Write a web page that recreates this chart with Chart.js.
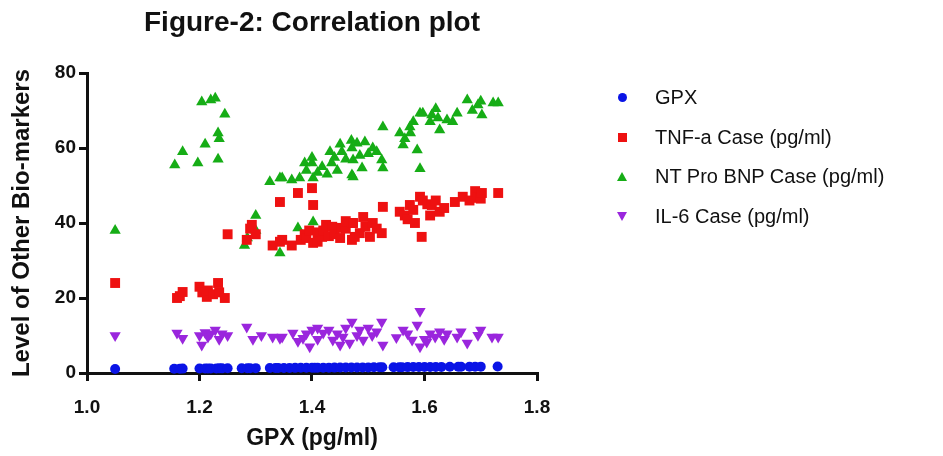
<!DOCTYPE html>
<html>
<head>
<meta charset="utf-8">
<title>Figure-2: Correlation plot</title>
<script src="https://cdn.jsdelivr.net/npm/chart.js@4.4.1/dist/chart.umd.min.js"></script>
<style>
  body { margin: 0; background: #fff; }
  #wrap { position: relative; width: 943px; height: 456px; }
  #legend {
    position: absolute; left: 612px; top: 83px;
    font: 20px "Liberation Sans", Arial, sans-serif; color: #111;
  }
  .item { position: relative; height: 39.5px; line-height: 28px; padding-left: 43px; white-space: nowrap; }
  .mk { position: absolute; }
  .circle { left: 6px; top: 10px; width: 9px; height: 9px; border-radius: 50%; background: #0a14e6; }
  .square { left: 6px; top: 10px; width: 9px; height: 9px; background: #ee1111; }
  .tri-up { left: 5px; top: 10px; width: 0; height: 0; border-left: 5px solid transparent; border-right: 5px solid transparent; border-bottom: 9px solid #16ad16; }
  .tri-down { left: 5px; top: 10px; width: 0; height: 0; border-left: 5px solid transparent; border-right: 5px solid transparent; border-top: 9px solid #9a26dd; }
</style>
</head>
<body>
<div id="wrap">
  <canvas id="corrChart" width="943" height="456"></canvas>
  <div id="legend">
    <div class="item"><span class="mk circle"></span>GPX</div>
    <div class="item"><span class="mk square"></span>TNF-a Case (pg/ml)</div>
    <div class="item"><span class="mk tri-up"></span>NT Pro BNP Case (pg/ml)</div>
    <div class="item"><span class="mk tri-down"></span>IL-6 Case (pg/ml)</div>
  </div>
</div>
<script>
// GPX values (x axis); the GPX series is plotted against itself
const gpxValues = [
  1.05,
  1.155, 1.165, 1.17,
  1.20, 1.21, 1.215, 1.22, 1.23, 1.235, 1.24, 1.25,
  1.275, 1.285, 1.29, 1.30,
  1.325, 1.335, 1.34, 1.35, 1.36, 1.37, 1.38, 1.39, 1.40, 1.405, 1.41, 1.42, 1.43,
  1.44, 1.45, 1.46, 1.47, 1.48, 1.49, 1.50, 1.51, 1.52, 1.525,
  1.545, 1.555, 1.56, 1.57, 1.58, 1.59, 1.60, 1.61, 1.62, 1.63,
  1.645, 1.66, 1.665, 1.68, 1.69, 1.70,
  1.73
];

// [GPX, TNF-a]
const tnfPoints = [
  [1.05, 24],
  [1.16, 20], [1.165, 20.5], [1.17, 21.6], [1.20, 23], [1.205, 21.5], [1.213, 20.3], [1.215, 22],
  [1.224, 21], [1.233, 24], [1.235, 21.5], [1.245, 20],
  [1.25, 37], [1.284, 35.5], [1.29, 38.5], [1.293, 39.5], [1.30, 37], [1.33, 34], [1.343, 35], [1.343, 45.6],
  [1.347, 35.5], [1.364, 34], [1.375, 48], [1.38, 35.5], [1.387, 37], [1.39, 36], [1.395, 38],
  [1.40, 49.3], [1.402, 44.8], [1.402, 34.7], [1.41, 37.5], [1.41, 35], [1.418, 36.3], [1.42, 38],
  [1.425, 39.5], [1.43, 36.5], [1.436, 39], [1.44, 37], [1.45, 36], [1.453, 38.7], [1.46, 38.5],
  [1.46, 40.5], [1.471, 40], [1.471, 35.5],
  [1.473, 40], [1.476, 36.3], [1.485, 37.3], [1.491, 41.6], [1.495, 39], [1.503, 36.3], [1.508, 40],
  [1.515, 38.5], [1.524, 37.3], [1.526, 44.3], [1.556, 43], [1.565, 42], [1.57, 41], [1.574, 44.8],
  [1.58, 43.5], [1.583, 40], [1.592, 47], [1.595, 36.3],
  [1.597, 46], [1.605, 45], [1.61, 42], [1.613, 44.8], [1.62, 46], [1.627, 43], [1.635, 44],
  [1.654, 45.6], [1.668, 47], [1.68, 46], [1.69, 48.5], [1.695, 46.7], [1.70, 46.5], [1.702, 48],
  [1.731, 48]
];

// [GPX, NT Pro BNP]
const ntProBnpPoints = [
  [1.05, 38],
  [1.156, 55.5], [1.17, 59], [1.197, 56], [1.204, 72.3], [1.21, 61], [1.22, 72.8], [1.228, 73.3],
  [1.233, 64], [1.235, 62.5], [1.233, 57], [1.245, 69],
  [1.28, 34], [1.285, 36], [1.30, 38], [1.30, 42], [1.325, 51], [1.343, 52], [1.343, 32],
  [1.347, 52], [1.364, 51.5], [1.375, 38.7], [1.378, 52], [1.387, 56], [1.39, 54], [1.40, 56],
  [1.40, 57.5], [1.402, 52], [1.402, 40.3], [1.41, 53.5], [1.418, 55], [1.427, 53], [1.432, 59],
  [1.435, 56], [1.44, 57.5], [1.445, 54], [1.45, 61], [1.453, 59], [1.46, 57], [1.47, 62],
  [1.471, 60], [1.471, 52.8],
  [1.473, 56.8], [1.473, 52.3], [1.48, 61.3], [1.485, 58], [1.489, 54.7], [1.494, 61.6], [1.50, 58.5],
  [1.508, 60], [1.515, 59], [1.524, 56.8], [1.526, 54.7], [1.526, 65.6], [1.556, 64], [1.562, 60.8],
  [1.565, 62.5], [1.574, 65.6], [1.575, 64], [1.58, 67], [1.587, 59.5], [1.592, 69.3], [1.592, 54.5],
  [1.597, 69.3], [1.61, 67], [1.613, 68.8], [1.62, 70.5], [1.624, 68], [1.627, 64.8], [1.64, 67.5],
  [1.65, 67], [1.658, 69.3], [1.676, 72.8], [1.685, 70], [1.695, 71.5], [1.70, 72.5], [1.702, 68.8],
  [1.722, 72], [1.731, 72]
];

// [GPX, IL-6]
const il6Points = [
  [1.05, 10],
  [1.16, 10.7], [1.17, 9.3], [1.20, 10], [1.204, 7.5], [1.21, 10.8], [1.215, 9.6], [1.22, 10.5],
  [1.228, 11.5], [1.235, 9], [1.24, 10.5], [1.25, 10],
  [1.284, 12.3], [1.295, 9], [1.31, 10], [1.33, 9.6], [1.343, 9.3],
  [1.347, 9.6], [1.366, 10.7], [1.375, 8.5], [1.384, 9.3], [1.39, 10.5], [1.396, 7], [1.40, 11.5],
  [1.41, 9], [1.41, 12], [1.42, 10.7], [1.43, 11.5], [1.437, 8.8], [1.445, 10.5], [1.45, 7.5],
  [1.455, 9.6], [1.46, 12], [1.467, 8], [1.471, 13.6],
  [1.48, 10], [1.485, 11.5], [1.491, 8.8], [1.50, 12], [1.507, 10], [1.515, 11], [1.524, 13.6],
  [1.526, 7.5], [1.55, 9.5], [1.562, 11.5], [1.57, 10.5], [1.578, 8.8], [1.587, 12.8], [1.592, 16.5],
  [1.592, 7], [1.60, 9], [1.604, 8.3], [1.61, 10.5], [1.619, 9.6], [1.627, 11], [1.635, 9],
  [1.64, 10.5], [1.658, 9.6], [1.665, 11], [1.676, 8], [1.695, 10.1], [1.70, 11.5], [1.72, 9.6],
  [1.731, 9.6]
];

const xTicks = [1.0, 1.2, 1.4, 1.6, 1.8];
const yTicks = [0, 20, 40, 60, 80];

const fontFamily = '"Liberation Sans", Arial, Helvetica, sans-serif';
const ink = '#111';

function toXY(points) {
  return points.map(p => ({ x: p[0], y: p[1] }));
}

function axisStyle() {
  return {
    border: { display: true, color: ink, width: 3 },
    grid: { drawOnChartArea: false, drawTicks: true, color: ink, lineWidth: 3, tickLength: 8 }
  };
}

const ctx = document.getElementById('corrChart').getContext('2d');

new Chart(ctx, {
  type: 'scatter',
  data: {
    datasets: [
      {
        label: 'GPX',
        data: gpxValues.map(v => ({ x: v, y: v })),
        pointStyle: 'circle',
        pointRadius: 5,
        backgroundColor: '#0a14e6',
        borderColor: '#0a14e6',
        borderWidth: 0,
        clip: false
      },
      {
        label: 'TNF-a Case (pg/ml)',
        data: toXY(tnfPoints),
        pointStyle: 'rect',
        pointRadius: 7,
        backgroundColor: '#ee1111',
        borderColor: '#ee1111',
        borderWidth: 0,
        clip: false
      },
      {
        label: 'NT Pro BNP Case (pg/ml)',
        data: toXY(ntProBnpPoints),
        pointStyle: 'triangle',
        pointRadius: 6.5,
        backgroundColor: '#16ad16',
        borderColor: '#16ad16',
        borderWidth: 0,
        clip: false
      },
      {
        label: 'IL-6 Case (pg/ml)',
        data: toXY(il6Points),
        pointStyle: 'triangle',
        rotation: 180,
        pointRadius: 6.5,
        backgroundColor: '#9a26dd',
        borderColor: '#9a26dd',
        borderWidth: 0,
        clip: false
      }
    ]
  },
  options: {
    responsive: false,
    animation: false,
    layout: { padding: { left: 0, right: 406, top: 0, bottom: 0 } },
    plugins: {
      legend: { display: false },
      tooltip: { enabled: false },
      title: {
        display: true,
        fullSize: false,
        text: 'Figure-2: Correlation plot',
        color: ink,
        font: { family: fontFamily, size: 28, weight: 'bold' },
        padding: { top: 6, bottom: 33.4 }
      }
    },
    scales: {
      x: {
        type: 'linear',
        min: 1.0,
        max: 1.8,
        ...axisStyle(),
        afterBuildTicks: axis => { axis.ticks = xTicks.map(v => ({ value: v })); },
        ticks: {
          color: ink,
          padding: 15,
          font: { family: fontFamily, size: 19, weight: 'bold' },
          callback: v => Number(v).toFixed(1)
        },
        title: {
          display: true,
          text: 'GPX (pg/ml)',
          color: ink,
          font: { family: fontFamily, size: 23, weight: 'bold' },
          padding: { top: 4, bottom: 4 }
        },
        afterFit: scale => { scale.height = 83; }
      },
      y: {
        type: 'linear',
        min: 0,
        max: 80,
        ...axisStyle(),
        afterBuildTicks: axis => { axis.ticks = yTicks.map(v => ({ value: v })); },
        ticks: {
          color: ink,
          padding: 3,
          font: { family: fontFamily, size: 19, weight: 'bold' }
        },
        title: {
          display: true,
          text: 'Level of Other Bio-markers',
          color: ink,
          font: { family: fontFamily, size: 24, weight: 'bold' },
          padding: { top: 8, bottom: 4 }
        },
        afterFit: scale => { scale.width = 87; }
      }
    }
  }
});
</script>
</body>
</html>
